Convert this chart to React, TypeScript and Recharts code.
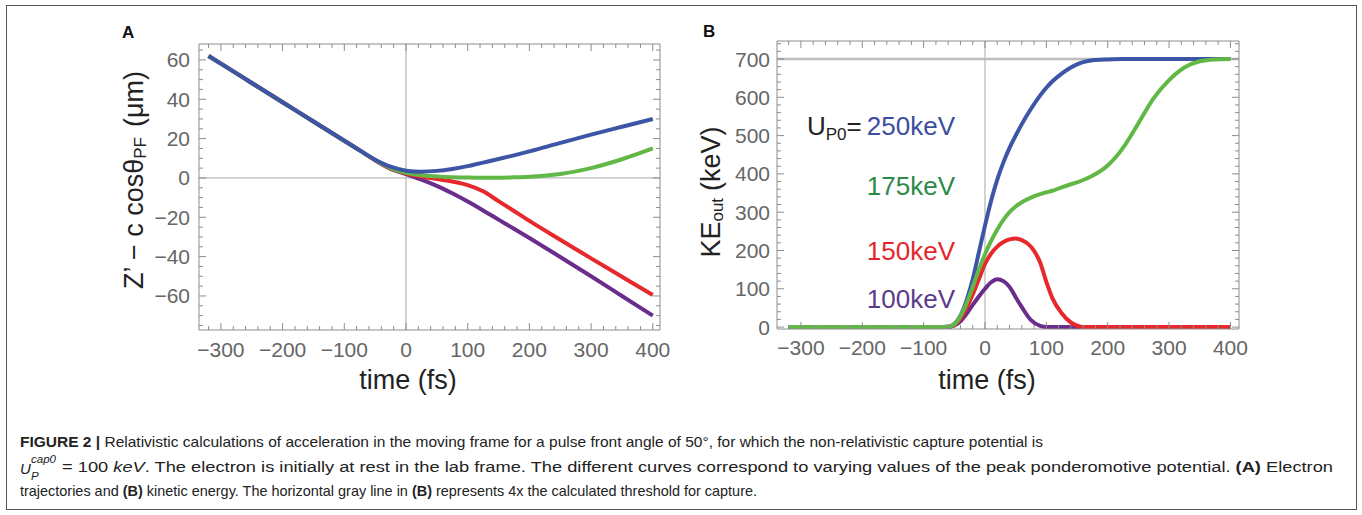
import React from 'react';
import { LineChart, Line, XAxis, YAxis, ReferenceLine } from 'recharts';

const FONT = '"Liberation Sans", Arial, Helvetica, sans-serif';

// panel A: Z' - c cos(theta_PF) (um) against time (fs)
const timeA = [-320, -300, -250, -200, -150, -100, -75, -50, -25, 0, 25, 50, 75, 100, 125, 150, 175, 200, 250, 300, 350, 400];
const zBlue = [62, 58.1, 48.3, 38.5, 28.7, 18.9, 14.0, 9.3, 5.7, 3.7, 3.2, 3.6, 4.6, 6.0, 7.8, 9.6, 11.5, 13.5, 17.8, 22.0, 26.0, 30.0];
const zGreen = [62, 58.1, 48.3, 38.5, 28.7, 18.9, 14.0, 9.1, 5.0, 2.6, 1.4, 0.8, 0.4, 0.2, 0.1, 0.1, 0.3, 0.6, 2.0, 5.0, 9.5, 15.0];
const zRed = [62, 58.1, 48.3, 38.5, 28.7, 18.9, 14.0, 9.0, 4.8, 2.2, 0.6, -0.5, -1.8, -3.6, -6.8, -11.8, -16.8, -21.8, -31.4, -40.9, -50.2, -59.5];
const zPurple = [62, 58.1, 48.3, 38.5, 28.7, 18.9, 14.0, 9.0, 4.6, 2.0, -0.8, -4.0, -7.8, -12.0, -16.5, -21.2, -25.8, -30.5, -40.2, -50.0, -60.0, -70.0];

// panel B: KE_out (keV) against time (fs)
const timeB = [-320, -100, -75, -60, -50, -40, -30, -20, -10, 0, 10, 20, 30, 40, 50, 60, 75, 90, 100, 110, 125, 140, 150, 160, 175, 200, 225, 250, 275, 300, 325, 350, 375, 400];
const keBlue = [0, 0, 0, 1, 8, 30, 70, 125, 195, 265, 330, 385, 430, 468, 500, 530, 570, 605, 625, 642, 662, 678, 686, 692, 697, 699, 700, 700, 700, 700, 700, 700, 700, 700];
const keGreen = [0, 0, 0, 1, 7, 28, 62, 105, 150, 190, 225, 255, 280, 300, 315, 326, 338, 347, 352, 356, 365, 373, 378, 384, 395, 422, 468, 532, 598, 645, 678, 694, 699, 700];
const keRed = [0, 0, 0, 1, 5, 22, 50, 85, 125, 165, 192, 210, 222, 229, 231, 227, 210, 168, 118, 75, 36, 12, 4, 0, 0, 0, 0, 0, 0, 0, 0, 0, 0, 0];
const kePurple = [0, 0, 0, 0, 4, 15, 35, 58, 80, 100, 117, 125, 120, 105, 78, 52, 18, 3, 0, 0, 0, 0, 0, 0, 0, 0, 0, 0, 0, 0, 0, 0, 0, 0];

const xMajor = [-300, -200, -100, 0, 100, 200, 300, 400];
const yMajorA = [-60, -40, -20, 0, 20, 40, 60];
const yMajorB = [0, 100, 200, 300, 400, 500, 600, 700];
const thresholdKE = 700;
const seriesLabels = ['250keV', '175keV', '150keV', '100keV'];

const BLUE = '#3d55a6';
const GREEN = '#62b846';
const RED = '#e7282c';
const PURPLE = '#6a2d8c';
const TICK_C = '#8c8c8c';
const LABEL_C = '#666666';

const steps = (from: number, to: number, step: number) => {
  const out: number[] = [];
  for (let v = from; v <= to; v += step) out.push(v);
  return out;
};
const xMinor = steps(-320, 400, 20);
const yMinorA = steps(-75, 65, 5);
const yMinorB = steps(0, 740, 20);

const dataA = timeA.map((t, i) => ({ t, blue: zBlue[i], green: zGreen[i], red: zRed[i], purple: zPurple[i] }));
const dataB = timeB.map((t, i) => ({ t, blue: keBlue[i], green: keGreen[i], red: keRed[i], purple: kePurple[i] }));

const fmt = (v: number) => (v < 0 ? '\u2212' + Math.abs(v) : String(v));

const makeTick = (side: string, majors: number[], labels: boolean, gap: number) => (props: any) => {
  const { x, y, payload } = props;
  const v = Number(payload.value);
  const major = majors.includes(v);
  const len = major ? 7 : 4;
  let d = [x, y, x, y - len];
  if (side === 'top') d = [x, y, x, y + len];
  if (side === 'left') d = [x, y, x + len, y];
  if (side === 'right') d = [x, y, x - len, y];
  return (
    <g>
      <line x1={d[0]} y1={d[1]} x2={d[2]} y2={d[3]} stroke={TICK_C} strokeWidth={1} />
      {labels && major && side === 'bottom' && (
        <text x={x} y={y + gap} textAnchor="middle" dominantBaseline="central" fontSize={21} fill={LABEL_C} fontFamily={FONT}>{fmt(v)}</text>
      )}
      {labels && major && side === 'left' && (
        <text x={x - gap} y={y} textAnchor="end" dominantBaseline="central" fontSize={21} fill={LABEL_C} fontFamily={FONT}>{fmt(v)}</text>
      )}
    </g>
  );
};

function PanelA() {
  const xd = [-335.5, 411.7];
  const yd = [-77.3, 68.1];
  return (
    <LineChart width={681} height={420} data={dataA} margin={{ top: 43, right: 20, bottom: 60, left: 139 }}>
      <XAxis dataKey="t" type="number" domain={xd} allowDataOverflow ticks={xMinor} interval={0}
        tickSize={0} tickMargin={0} height={30} stroke={TICK_C} tick={makeTick('bottom', xMajor, true, 19)}
        label={() => <text x={408} y={380} textAnchor="middle" dominantBaseline="central" fontSize={27} fill="#222" fontFamily={FONT}>time (fs)</text>} />
      <XAxis xAxisId="top" dataKey="t" orientation="top" type="number" domain={xd} allowDataOverflow ticks={xMinor} interval={0}
        tickSize={0} tickMargin={0} height={1} stroke={TICK_C} tick={makeTick('top', xMajor, false, 0)} />
      <YAxis type="number" domain={yd} allowDataOverflow ticks={yMinorA} interval={0}
        tickSize={0} tickMargin={0} width={60} stroke={TICK_C} tick={makeTick('left', yMajorA, true, 9)}
        label={() => (
          <text transform="rotate(-90 134 180)" x={134} y={180} textAnchor="middle" dominantBaseline="central" fontSize={27} fill="#222" fontFamily={FONT}>
            Z’ − c cosθ<tspan fontSize={17} dy={6}>PF</tspan><tspan dx={10} dy={-6}>(μm)</tspan>
          </text>
        )} />
      <YAxis yAxisId="right" orientation="right" type="number" domain={yd} allowDataOverflow ticks={yMinorA} interval={0}
        tickSize={0} tickMargin={0} width={1} stroke={TICK_C} tick={makeTick('right', yMajorA, false, 0)} />
      <ReferenceLine x={0} stroke="#a6a6a6" strokeWidth={1} />
      <ReferenceLine y={0} stroke="#a6a6a6" strokeWidth={1} />
      <Line dataKey="purple" type="monotone" stroke={PURPLE} strokeWidth={4} dot={false} isAnimationActive={false} />
      <Line dataKey="red" type="monotone" stroke={RED} strokeWidth={4} dot={false} isAnimationActive={false} />
      <Line dataKey="green" type="monotone" stroke={GREEN} strokeWidth={4} dot={false} isAnimationActive={false} />
      <Line dataKey="blue" type="monotone" stroke={BLUE} strokeWidth={4} dot={false} isAnimationActive={false} />
      <Line dataKey="blue" xAxisId="top" yAxisId="right" stroke="none" dot={false} legendType="none" isAnimationActive={false} />
    </LineChart>
  );
}

function PanelB() {
  const xd = [-339, 414];
  const yd = [-5, 747];
  return (
    <LineChart width={681} height={420} data={dataB} margin={{ top: 40, right: 122, bottom: 61, left: 36 }}>
      <XAxis dataKey="t" type="number" domain={xd} allowDataOverflow ticks={xMinor} interval={0}
        tickSize={0} tickMargin={0} height={30} stroke={TICK_C} tick={makeTick('bottom', xMajor, true, 18)}
        label={() => <text x={306} y={380} textAnchor="middle" dominantBaseline="central" fontSize={27} fill="#222" fontFamily={FONT}>time (fs)</text>} />
      <XAxis xAxisId="top" dataKey="t" orientation="top" type="number" domain={xd} allowDataOverflow ticks={xMinor} interval={0}
        tickSize={0} tickMargin={0} height={1} stroke={TICK_C} tick={makeTick('top', xMajor, false, 0)} />
      <YAxis type="number" domain={yd} allowDataOverflow ticks={yMinorB} interval={0}
        tickSize={0} tickMargin={0} width={60} stroke={TICK_C} tick={makeTick('left', yMajorB, true, 7)}
        label={() => (
          <text transform="rotate(-90 30 192)" x={30} y={192} textAnchor="middle" dominantBaseline="central" fontSize={27} fill="#222" fontFamily={FONT}>
            KE<tspan fontSize={17} dy={6}>out</tspan><tspan dx={7} dy={-6}>(keV)</tspan>
          </text>
        )} />
      <YAxis yAxisId="right" orientation="right" type="number" domain={yd} allowDataOverflow ticks={yMinorB} interval={0}
        tickSize={0} tickMargin={0} width={1} stroke={TICK_C} tick={makeTick('right', yMajorB, false, 0)} />
      <ReferenceLine x={0} stroke="#a6a6a6" strokeWidth={1} />
      <ReferenceLine y={thresholdKE} stroke="#bdbdbd" strokeWidth={2.5} />
      <Line dataKey="purple" type="monotone" stroke={PURPLE} strokeWidth={4} dot={false} isAnimationActive={false} />
      <Line dataKey="red" type="monotone" stroke={RED} strokeWidth={4} dot={false} isAnimationActive={false} />
      <Line dataKey="blue" type="monotone" stroke={BLUE} strokeWidth={4} dot={false} isAnimationActive={false} />
      <Line dataKey="green" type="monotone" stroke={GREEN} strokeWidth={4} dot={false} isAnimationActive={false} />
      <Line dataKey="blue" xAxisId="top" yAxisId="right" stroke="none" dot={false} legendType="none" isAnimationActive={false} />
    </LineChart>
  );
}

function Overlay() {
  const labelColors = ['#3b4d9f', '#2b8a47', '#e4262c', '#5b3b8c'];
  const labelBaselines = [135, 195, 260, 308];
  return (
    <svg width={1362} height={515} style={{ position: 'absolute', left: 0, top: 0, pointerEvents: 'none' }} fontFamily={FONT}>
      <rect x={6.5} y={5.5} width={1350} height={504} fill="none" stroke="#555" strokeWidth={1} />
      <text x={122} y={38} fontSize={17} fontWeight="bold" fill="#111">A</text>
      <text x={703} y={37} fontSize={17} fontWeight="bold" fill="#111">B</text>

      <text x={807} y={135} fontSize={26} fill="#222">
        U<tspan fontSize={17} dy={5}>P0</tspan><tspan dy={-5}>=</tspan>
      </text>
      {seriesLabels.map((s, i) => (
        <text key={s} x={955} y={labelBaselines[i]} textAnchor="end" fontSize={26} fill={labelColors[i]}>{s}</text>
      ))}

      <text x={20} y={447} fontSize={14.5} fill="#222" textLength={1023} lengthAdjust="spacingAndGlyphs">
        <tspan fontWeight="bold">FIGURE 2 |</tspan>
        {' Relativistic calculations of acceleration in the moving frame for a pulse front angle of 50°, for which the non-relativistic capture potential is'}
      </text>
      <text x={20} y={474} fontSize={15} fontStyle="italic" fill="#222">U</text>
      <text x={31} y={463} fontSize={11.5} fontStyle="italic" fill="#222">cap0</text>
      <text x={31} y={480} fontSize={11.5} fontStyle="italic" fill="#222">P</text>
      <text x={62} y={472} fontSize={15.5} fill="#222" textLength={1271} lengthAdjust="spacingAndGlyphs">
        {'= 100 '}<tspan fontStyle="italic">keV</tspan>
        {'. The electron is initially at rest in the lab frame. The different curves correspond to varying values of the peak ponderomotive potential. '}
        <tspan fontWeight="bold">(A)</tspan>{' Electron'}
      </text>
      <text x={20} y={496} fontSize={14.5} fill="#222" textLength={737} lengthAdjust="spacingAndGlyphs">
        {'trajectories and '}<tspan fontWeight="bold">(B)</tspan>
        {' kinetic energy. The horizontal gray line in '}<tspan fontWeight="bold">(B)</tspan>
        {' represents 4x the calculated threshold for capture.'}
      </text>
    </svg>
  );
}

export default function App() {
  return (
    <div style={{ position: 'absolute', left: 0, top: 0, width: 1362, height: 515, background: '#fff', fontFamily: FONT }}>
      <div style={{ position: 'absolute', left: 0, top: 0 }}>
        <PanelA />
      </div>
      <div style={{ position: 'absolute', left: 681, top: 0 }}>
        <PanelB />
      </div>
      <Overlay />
    </div>
  );
}
